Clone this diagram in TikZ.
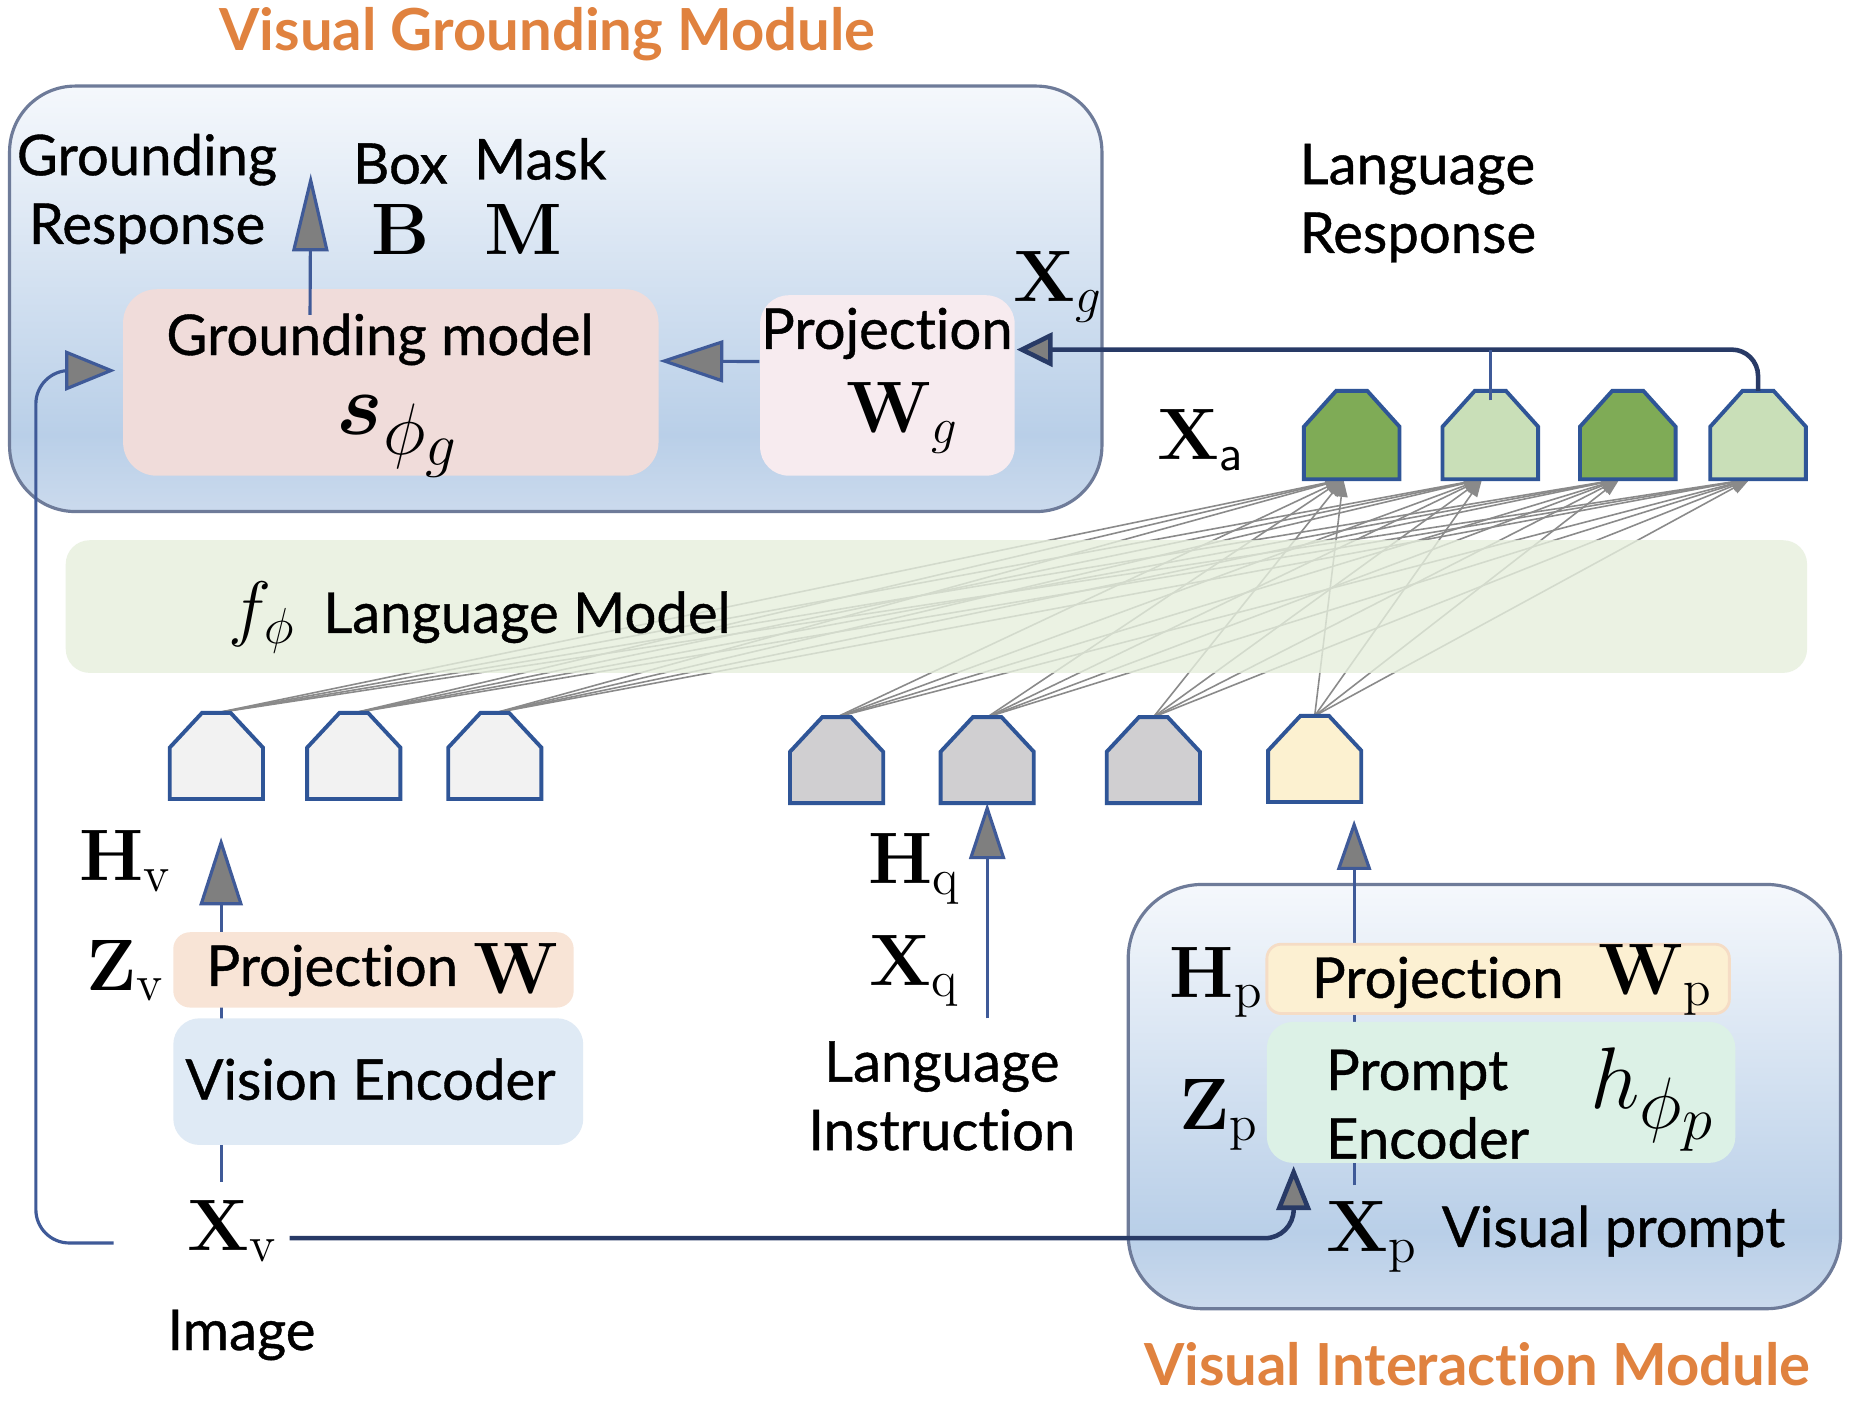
\documentclass[tikz,border=0pt]{standalone}
\usepackage[no-math]{fontspec}
\setmainfont{Lato}[Ligatures=NoCommon]
\newfontfamily\lblfont{Lato}[Ligatures=NoCommon,FakeBold=0.7]
\usepackage{bm}
\usetikzlibrary{arrows.meta,calc}
\newdimen\pxu \pxu=0.01195cm
\definecolor{titleorange}{HTML}{E0823F}
\definecolor{modborder}{HTML}{6E7B99}
\definecolor{gtop}{HTML}{F5F8FC}
\definecolor{gmid}{HTML}{B9CFE8}
\definecolor{gbot}{HTML}{CBDAED}
\definecolor{gmfill}{HTML}{F0DCDA}
\definecolor{pgfill}{HTML}{F7EBEF}
\definecolor{lmfill}{HTML}{E6EFDD}
\definecolor{pwfill}{HTML}{F8E4D6}
\definecolor{vefill}{HTML}{DFEAF5}
\definecolor{pwpfill}{HTML}{FCF0D2}
\definecolor{pwpborder}{HTML}{F5DCC5}
\definecolor{pefill}{HTML}{DCF1E6}
\definecolor{tokblue}{HTML}{2F5597}
\definecolor{adark}{HTML}{7FAB56}
\definecolor{alight}{HTML}{C9DFB8}
\definecolor{vtok}{HTML}{F2F2F2}
\definecolor{qtok}{HTML}{D0CFD1}
\definecolor{ptok}{HTML}{FCF1D0}
\definecolor{linkblue}{HTML}{3F5A98}
\definecolor{linknavy}{HTML}{283A66}
\definecolor{agray}{HTML}{7F7F7F}
\definecolor{fangray}{HTML}{8A8A8A}
\pgfdeclareverticalshading{modshade}{100bp}{color(0bp)=(gbot); color(25bp)=(gbot); color(34bp)=(gmid); color(75bp)=(gtop); color(100bp)=(gtop)}
\pgfdeclarelayer{bglayer}
\pgfdeclarelayer{modlayer}
\pgfdeclarelayer{connlayer}
\pgfsetlayers{bglayer,modlayer,connlayer,main}
\tikzset{
  txt/.style={font=\lblfont\fontsize{16}{19.5}\selectfont, align=center, inner sep=1pt},
  mth/.style={font=\fontsize{20.74}{25}\selectfont, inner sep=1pt},
  bigmth/.style={font=\fontsize{24.88}{30}\selectfont, inner sep=0pt},
  ttl/.style={font=\fontsize{16.5}{20}\selectfont\bfseries, text=titleorange, inner sep=1pt},
  modbox/.style={rectangle, draw=modborder, line width=0.9pt, rounded corners=55\pxu, shade, shading=modshade, inner sep=0pt},
  inbox/.style={rectangle, draw=none, rounded corners=22\pxu, inner sep=0pt},
  tokbox/.style={rectangle, draw=none, inner sep=0pt, outer sep=0pt, minimum width=80\pxu, minimum height=74\pxu},
  tokline/.style={draw=tokblue, line width=1.1pt, line join=miter},
  link/.style={draw=linkblue, line width=0.9pt},
  navylink/.style={draw=linknavy, line width=1.3pt},
  fan/.style={draw=fangray, line width=0.45pt, -{Triangle[length=5pt,width=3.6pt,fill=fangray]}},
  tipGR/.style={-{Triangle[length=0.78cm,width=0.36cm,fill=agray]}},
  tipPG/.style={-{Triangle[length=0.64cm,width=0.42cm,fill=agray]}},
  tipXG/.style={-{Triangle[length=0.36cm,width=0.34cm,fill=agray]}},
  tipFB/.style={-{Triangle[length=0.5cm,width=0.4cm,fill=agray]}},
  tipPE/.style={-{Triangle[length=0.44cm,width=0.34cm,fill=agray]}},
  tipHV/.style={-{Triangle[length=0.68cm,width=0.43cm,fill=agray]}},
  tipHQ/.style={-{Triangle[length=0.56cm,width=0.36cm,fill=agray]}},
  tipHP/.style={-{Triangle[length=0.5cm,width=0.34cm,fill=agray]}},
}
% house-shaped token outline drawn on a named node: #1 name, #2 fill, #3 roof height
\newcommand\drawhouse[3]{%
  \draw[tokline, fill=#2] (#1.south west) -- ($(#1.north west)+(0,#3)$) -- ($(#1.north west)+(27,0)$)
    -- ($(#1.north east)+(-27,0)$) -- ($(#1.north east)+(0,#3)$) -- (#1.south east) -- cycle;}
\begin{document}
\begin{tikzpicture}[x=0.01195cm,y=-0.01195cm]
\useasboundingbox (0,0) rectangle (1568,1180);
\begin{pgfonlayer}{bglayer}
\fill[white] (0,0) rectangle (1568,1180);
\end{pgfonlayer}
% module boxes
\begin{pgfonlayer}{modlayer}
\node[modbox, minimum width=914\pxu, minimum height=356\pxu] (vgm) at (465,250) {};
\node[modbox, minimum width=596\pxu, minimum height=355\pxu, rounded corners=62\pxu] (vim) at (1242,917.5) {};
\end{pgfonlayer}
\node[ttl] (vgmtitle) at (458,29) {Visual Grounding Module};
\node[ttl] (vimtitle) at (1236,1141) {Visual Interaction Module};
% inner boxes
\node[inbox, fill=gmfill, minimum width=448\pxu, minimum height=156\pxu, rounded corners=28\pxu] (gm) at (327,320) {};
\node[inbox, fill=pgfill, minimum width=213\pxu, minimum height=151\pxu, rounded corners=24\pxu] (pg) at (742.5,322.5) {};
\node[inbox, fill=pwfill, minimum width=335\pxu, minimum height=63\pxu, rounded corners=14\pxu] (pw) at (312.5,811.5) {};
\node[inbox, fill=vefill, minimum width=343\pxu, minimum height=106\pxu, rounded corners=22\pxu] (ve) at (316.5,905) {};
\node[inbox, fill=pwpfill, draw=pwpborder, line width=0.8pt, minimum width=387\pxu, minimum height=58\pxu, rounded corners=12\pxu] (pwp) at (1253.5,819) {};
\node[inbox, fill=pefill, minimum width=392\pxu, minimum height=118\pxu, rounded corners=22\pxu] (pe) at (1256,914) {};
% tokens
\foreach \n/\xx/\c in {1/1131/adark,2/1247/alight,3/1362/adark,4/1471/alight}{
  \node[tokbox] (a\n) at (\xx,364) {};
  \drawhouse{a\n}{\c}{30}}
\foreach \n/\xx/\yy/\c in {1/181/632.5/vtok,2/296/632.5/vtok,3/414/632.5/vtok,4/700/636/qtok,5/826/636/qtok,6/965/636/qtok,7/1100/635/ptok}{
  \node[tokbox, minimum width=78\pxu, minimum height=72\pxu] (b\n) at (\xx,\yy) {};
  \drawhouse{b\n}{\c}{29}}
% language model box (over the fan lines)
\node[inbox, fill=lmfill, fill opacity=0.8, minimum width=1457\pxu, minimum height=111\pxu, rounded corners=20\pxu] (lm) at (783.5,507.5) {};
\node[txt, anchor=west] (lmtxt) at (188,517) {{\fontsize{20.74}{25}\selectfont$f_{\phi}$}\hspace{0.5em}Language Model};
% texts
\node[txt] (grresp) at (123,162) {Grounding\\Response};
\node[txt] (boxlbl) at (335,137) {Box};
\node[txt] (masklbl) at (452,133) {Mask};
\node[mth] (Bl) at (335,192) {$\mathbf{B}$};
\node[mth] (Ml) at (438,192) {$\mathbf{M}$};
\node[txt] (gmt) at (318,284) {Grounding model};
\node[bigmth] (gms) at (333,365) {$\bm{s}_{\phi_g}$};
\node[txt] (pgt) at (742,279) {Projection};
\node[mth] (pgw) at (755,350) {$\mathbf{W}_{g}$};
\node[mth] (Xg) at (885,240) {$\mathbf{X}_{g}$};
\node[txt, align=left, anchor=west] (langresp) at (1084,170) {Language\\Response};
\node[mth] (Xa) at (1005,368) {$\mathbf{X}_{\mathsf{a}}$};
\node[mth] (Hv) at (105,720) {$\mathbf{H}_{\mathrm{v}}$};
\node[mth] (Zv) at (105,812) {$\mathbf{Z}_{\mathrm{v}}$};
\node[txt] (pwt) at (278,812) {Projection};
\node[mth] (pww) at (432,810) {$\mathbf{W}$};
\node[txt] (vet) at (310,903) {Vision Encoder};
\node[mth] (Xv) at (195,1030) {$\mathbf{X}_{\mathrm{v}}$};
\node[txt] (img) at (202,1117) {Image};
\node[mth] (Hq) at (765,727) {$\mathbf{H}_{\mathrm{q}}$};
\node[mth] (Xq) at (765,812) {$\mathbf{X}_{\mathrm{q}}$};
\node[txt] (langins) at (788,917) {Language\\Instruction};
\node[mth] (Hp) at (1018,822) {$\mathbf{H}_{\mathrm{p}}$};
\node[txt] (pwpt) at (1203,822) {Projection};
\node[mth] (pwpw) at (1385,820) {$\mathbf{W}_{\mathrm{p}}$};
\node[mth] (Zp) at (1020,933) {$\mathbf{Z}_{\mathrm{p}}$};
\node[txt, align=left, anchor=west] (pet) at (1106,924) {Prompt\\Encoder};
\node[bigmth] (peh) at (1383,920) {$h_{\phi_p}$};
\node[mth] (Xp) at (1148,1035) {$\mathbf{X}_{\mathrm{p}}$};
\node[txt] (vp) at (1350,1030) {Visual prompt};
% connectors above boxes
\coordinate (grtip) at (260,145);
\draw[link, tipGR] ($(gm.north west)+(157,22)$) -- (grtip);
\draw[link, tipPG] ($(pg.west)+(0,-20)$) -- ($(gm.east)+(0,-18)$);
\coordinate (xgin) at ($(pg.east)+(1,-30)$);
\draw[navylink, rounded corners=22\pxu, tipXG] (a4.north) |- (xgin);
\draw[link] ($(a2.north)+(0,8)$) -- (a2.north |- xgin);
% connectors under boxes
\begin{pgfonlayer}{connlayer}
\foreach \i in {1,...,7}{\foreach \j in {1,...,4}{\draw[fan] (b\i.north) -- ($(a\j.south)+(-7,0)$);}}
\coordinate (fbstart) at (95,1040);
\draw[link, rounded corners=28\pxu, tipFB] (fbstart) -- (30,1040) -- (30,310) -- ($(gm.west)+(-6,-10)$);
\coordinate (pein) at ($(pe.south west)+(23,2)$);
\draw[navylink, rounded corners=24\pxu, tipPE] ($(Xv.east)+(6,6)$) -| (pein);
\draw[link, tipHV] ($(Xv.north)+(-10,-12)$) -- ($(b1.south)+(4,32)$);
\coordinate (lqstart) at (826,852);
\draw[link, tipHQ] (lqstart) -- (b5.south);
\draw[link, tipHP] ($(Xp.north)+(-15,-10)$) -- ($(b7.south)+(33,15)$);
\end{pgfonlayer}
\end{tikzpicture}
\end{document}
